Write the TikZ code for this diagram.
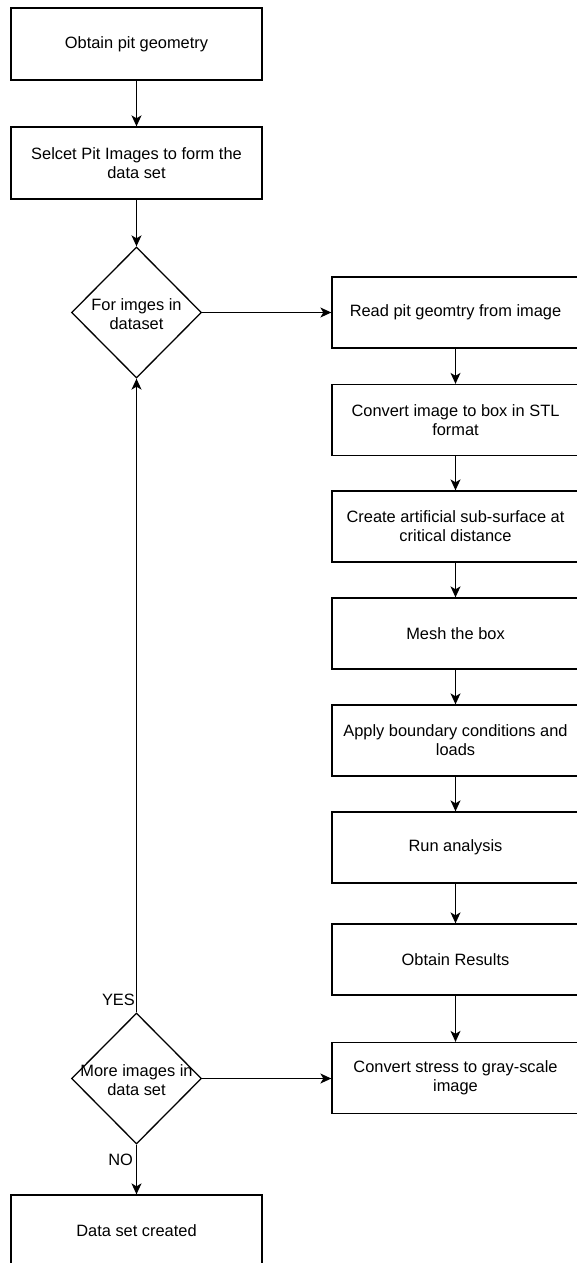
\documentclass[tikz,border=0pt]{standalone}
\usepackage{fontspec}
\setmainfont{Liberation Sans}
\usetikzlibrary{shapes.geometric,arrows.meta}
\begin{document}
\begin{tikzpicture}[x=1pt,y=-1pt,
  every node/.style={font=\fontsize{16.4}{19}\selectfont, align=center, inner sep=0pt},
  lbox/.style={draw, line width=1.3pt, minimum width=251pt, minimum height=72pt},
  rbox/.style={draw, line width=1.3pt, minimum width=247pt, minimum height=71pt},
  dia/.style={draw, line width=1.3pt, diamond, minimum width=130pt, minimum height=131pt, inner sep=0pt},
  conn/.style={line width=1.3pt, -{Stealth[length=11pt,width=10pt,inset=3pt]}},
  lbl/.style={font=\fontsize{16.4}{19}\selectfont}
]
\useasboundingbox (0,0) rectangle (577,1263);
% left column
\node[lbox] (b1) at (136.5,44) {Obtain pit geometry};
\node[lbox] (b2) at (136.5,163) {Selcet Pit Images to form the\\data set};
\node[dia] (d1) at (136.5,312.5) {};
\node at (136.5,314) {For imges in\\dataset};
\node[dia] (d2) at (136.5,1078.5) {};
\node at (136.5,1080) {More images in\\data set};
\node[lbox] (b3) at (136.5,1231) {Data set created};
% right column
\node[rbox] (r1) at (455.5,312.5) {Read pit geomtry from image};
\node[rbox] (r2) at (455.5,420) {Convert image to box in STL\\format};
\node[rbox] (r3) at (455.5,526.5) {Create artificial sub-surface at\\critical distance};
\node[rbox] (r4) at (455.5,633.5) {Mesh the box};
\node[rbox] (r5) at (455.5,740.5) {Apply boundary conditions and\\loads};
\node[rbox] (r6) at (455.5,847.5) {Run analysis};
\node[rbox] (r7) at (455.5,959.5) {Obtain Results};
\node[rbox] (r8) at (455.5,1078) {Convert stress to gray-scale\\image};
% connectors
\draw[conn] (b1) -- (b2);
\draw[conn] (b2) -- (d1);
\draw[conn] (d1.east) -- (r1.west |- d1.east);
\draw[conn] (r1) -- (r2);
\draw[conn] (r2) -- (r3);
\draw[conn] (r3) -- (r4);
\draw[conn] (r4) -- (r5);
\draw[conn] (r5) -- (r6);
\draw[conn] (r6) -- (r7);
\draw[conn] (r7) -- (r8);
\draw[conn] (d2.east) -- (r8.west |- d2.east);
\draw[conn] (d2.north) -- node[lbl, pos=0.03, anchor=south east, xshift=-1pt, yshift=-13pt] (yes) {YES} (d1.south);
\draw[conn] (d2.south) -- node[lbl, pos=0.3, anchor=east, xshift=-3pt] (no) {NO} (b3.north);
\end{tikzpicture}
\end{document}
